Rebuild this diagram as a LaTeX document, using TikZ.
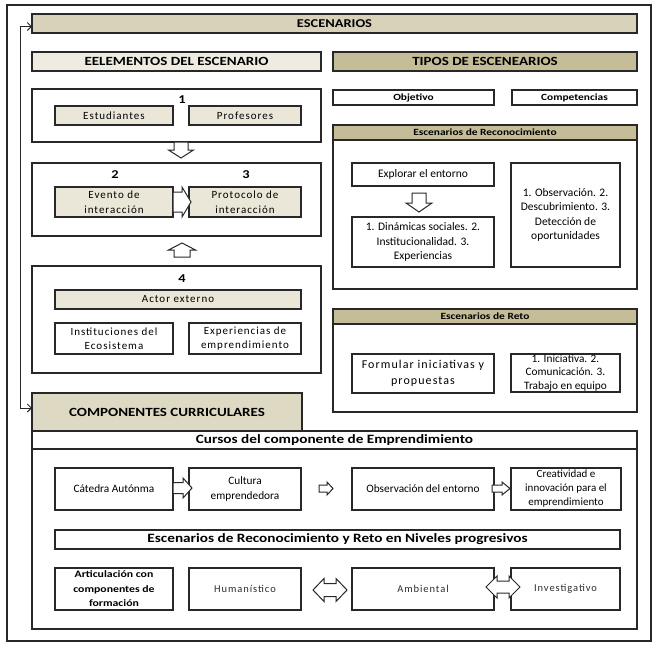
\documentclass[tikz,border=0pt]{standalone}
\usepackage{fontspec}
\setmainfont{Carlito}
\newfontfamily\spfont{Carlito}[LetterSpace=9]
\newfontfamily\hdfont{Carlito}[FakeStretch=1.2]
\usetikzlibrary{arrows.meta}
\newcommand\fsz[2]{\fontsize{#1}{#2}\selectfont}
\definecolor{linec}{RGB}{40,40,40}
\definecolor{escfill}{RGB}{216,210,186}
\definecolor{lightfill}{RGB}{238,236,225}
\definecolor{tipfill}{RGB}{196,189,151}
\definecolor{boxfill}{RGB}{234,231,216}
\definecolor{compfill}{RGB}{221,217,195}
\definecolor{graytext}{RGB}{45,45,45}
% block arrows: right, down, up, double horizontal
\newcommand\arrR[6]{\draw[blk] (#1,#3-#4) -- (#2-#6,#3-#4) -- (#2-#6,#3-#5) -- (#2,#3) -- (#2-#6,#3+#5) -- (#2-#6,#3+#4) -- (#1,#3+#4) -- cycle;}
\newcommand\arrD[6]{\draw[blk] (#3-#4,#1) -- (#3-#4,#2-#6) -- (#3-#5,#2-#6) -- (#3,#2) -- (#3+#5,#2-#6) -- (#3+#4,#2-#6) -- (#3+#4,#1) -- cycle;}
\newcommand\arrU[6]{\draw[blk] (#3-#4,#1) -- (#3-#4,#2+#6) -- (#3-#5,#2+#6) -- (#3,#2) -- (#3+#5,#2+#6) -- (#3+#4,#2+#6) -- (#3+#4,#1) -- cycle;}
\newcommand\arrLR[6]{\draw[blk] (#1,#3) -- (#1+#6,#3-#5) -- (#1+#6,#3-#4) -- (#2-#6,#3-#4) -- (#2-#6,#3-#5) -- (#2,#3) -- (#2-#6,#3+#5) -- (#2-#6,#3+#4) -- (#1+#6,#3+#4) -- (#1+#6,#3+#5) -- cycle;}
\begin{document}
\begin{tikzpicture}[x=1pt,y=-1pt,
  rct/.style n args={4}{at={({(#1+#3)/2},{(#2+#4)/2})}, minimum width={(#3-#1)*1pt}, minimum height={(#4-#2)*1pt}},
  bx/.style={draw=linec, line width=1.35pt, inner sep=0pt, outer sep=0pt, align=center},
  blk/.style={draw=linec, line width=1pt, fill=white, line join=miter},
  hdbig/.style={font=\hdfont\bfseries\fsz{12.5}{14}},
  hdmid/.style={font=\hdfont\bfseries\fsz{12.7}{14}},
  hdsmall/.style={font=\hdfont\bfseries\fsz{9.5}{14.5}},
  numlab/.style={font=\hdfont\bfseries\fsz{12}{14}},
  sptxt/.style={font=\spfont\fsz{11}{15.5}},
  rtxt/.style={font=\fsz{11.5}{14.5}},
  btxt/.style={font=\fsz{11.3}{14.2}},
  lvtxt/.style={font=\spfont\fsz{10.5}{14}, text=graytext},
  conn/.style={draw=linec, line width=0.9pt, {Straight Barb[length=4pt,width=8pt]}-{Straight Barb[length=4pt,width=8pt]}}
]
\useasboundingbox (0,0) rectangle (658,651);
\node[bx, rct={7}{5}{651}{641}] (frame) {};

% ---- top bars
\node[bx, fill=escfill, rct={32}{14}{637}{33}, font=\hdfont\bfseries\fsz{12}{14}] (esc) {ESCENARIOS};
\node[bx, fill=lightfill, rct={32}{52}{321}{71}, hdbig] (elem) {EELEMENTOS DEL ESCENARIO};
\node[bx, fill=tipfill, rct={333}{52}{637}{71}, hdbig] (tipos) {TIPOS DE ESCENEARIOS};

% ---- left column
\node[bx, rct={32}{89}{321}{142}] (b1) {};
\node[numlab] (n1) at (182,100) {1};
\node[bx, fill=boxfill, rct={55}{106}{173}{125}, sptxt] (estud) {Estudiantes};
\node[bx, fill=boxfill, rct={189}{106}{301}{125}, sptxt] (prof) {Profesores};

\node[bx, rct={32}{163}{321}{236}] (b2) {};
\node[numlab] (n2) at (115,175) {2};
\node[numlab] (n3) at (246,175) {3};
\node[bx, fill=boxfill, rct={55}{187}{173}{217}, sptxt] (evento) {Evento de\\interacción};
\node[bx, fill=boxfill, rct={189}{187}{301}{217}, sptxt] (proto) {Protocolo de\\interacción};

\node[bx, rct={32}{266}{321}{373}] (b4) {};
\node[numlab] (n4) at (182,279) {4};
\node[bx, fill=boxfill, rct={55}{290}{301}{309}, sptxt] (actor) {Actor externo};
\node[bx, rct={55}{323}{173}{354}, font=\spfont\fsz{11}{14.5}] (inst) {Instituciones del\\Ecosistema};
\node[bx, rct={189}{323}{301}{354}, font=\spfont\fsz{11}{14.5}] (exper) {Experiencias de\\emprendimiento};

\arrD{142}{158}{181}{7}{12.5}{8}
\arrR{173}{191}{202}{10}{15}{9}
\arrU{257}{243}{182}{8}{13.5}{7}

% ---- right column
\node[bx, rct={333}{90}{494}{105}, hdsmall] (obj) {Objetivo};
\node[bx, rct={512}{90}{637}{105}, hdsmall] (compt) {Competencias};

\node[bx, rct={333}{125}{637}{289}] (recon) {};
\node[bx, fill=tipfill, rct={333}{125}{637}{140}, hdsmall] (reconh) {Escenarios de Reconocimiento};
\node[bx, rct={352}{163}{494}{186}, rtxt] (explo) {Explorar el entorno};
\node[bx, rct={352}{217}{494}{267}, rtxt] (dinam) {1. Dinámicas sociales. 2.\\Institucionalidad. 3.\\Experiencias};
\node[bx, rct={511}{163}{620}{267}, rtxt] (obsl) {1. Observación. 2.\\Descubrimiento. 3.\\Detección de\\oportunidades};
\arrD{193}{212}{419}{7}{13}{9}

\node[bx, rct={333}{309}{637}{412}] (reto) {};
\node[bx, fill=tipfill, rct={333}{309}{637}{324}, hdsmall] (retoh) {Escenarios de Reto};
\node[bx, rct={352}{354}{494}{393}, font=\spfont\fsz{12}{16}] (formu) {Formular iniciativas y\\propuestas};
\node[bx, rct={511}{354}{620}{392}, font=\fsz{11.3}{13.5}] (inic) {1. Iniciativa. 2.\\Comunicación. 3.\\Trabajo en equipo};

% ---- bottom
\node[bx, rct={32}{431}{637}{629}] (cursos) {};
\node[bx, rct={32}{431}{637}{449}, hdmid] (cursosh) {Cursos del componente de Emprendimiento};
\node[bx, fill=compfill, rct={32}{393}{302}{431}, hdbig] (comp) {COMPONENTES CURRICULARES};

\node[bx, rct={55}{468}{173}{510}, btxt] (cated) {Cátedra Autónma};
\node[bx, rct={189}{468}{301}{510}, btxt] (cultu) {Cultura\\emprendedora};
\node[bx, rct={352}{468}{494}{510}, btxt] (obser) {Observación del entorno};
\node[bx, rct={511}{468}{621}{510}, font=\fsz{11}{14}] (creat) {Creatividad e\\innovación para el\\emprendimiento};
\arrR{173}{192}{488}{5.5}{10}{9}
\arrR{319}{333}{488.5}{3.5}{6.5}{6}
\arrR{492}{510}{488.5}{3.5}{6.5}{8}

\node[bx, rct={55}{530}{620}{549}, hdmid] (nivel) {Escenarios de Reconocimiento y Reto en Niveles progresivos};
\node[bx, rct={55}{568}{173}{610}, font=\hdfont\bfseries\fsz{9.8}{14.5}] (artic) {Articulación con\\componentes de\\formación};
\node[bx, rct={189}{568}{301}{610}, lvtxt] (human) {Humanístico};
\node[bx, rct={352}{568}{494}{610}, lvtxt] (ambie) {Ambiental};
\node[bx, rct={511}{568}{620}{610}, lvtxt] (inves) {Investigativo};
\arrLR{313}{347}{590}{6.5}{11.5}{11}
\arrLR{486}{520}{587}{6}{11}{11}

% ---- connector
\draw[conn] ([yshift=-3pt]esc.west) -- ++(-12,0) |- ([yshift=4pt]comp.west);
\end{tikzpicture}
\end{document}
